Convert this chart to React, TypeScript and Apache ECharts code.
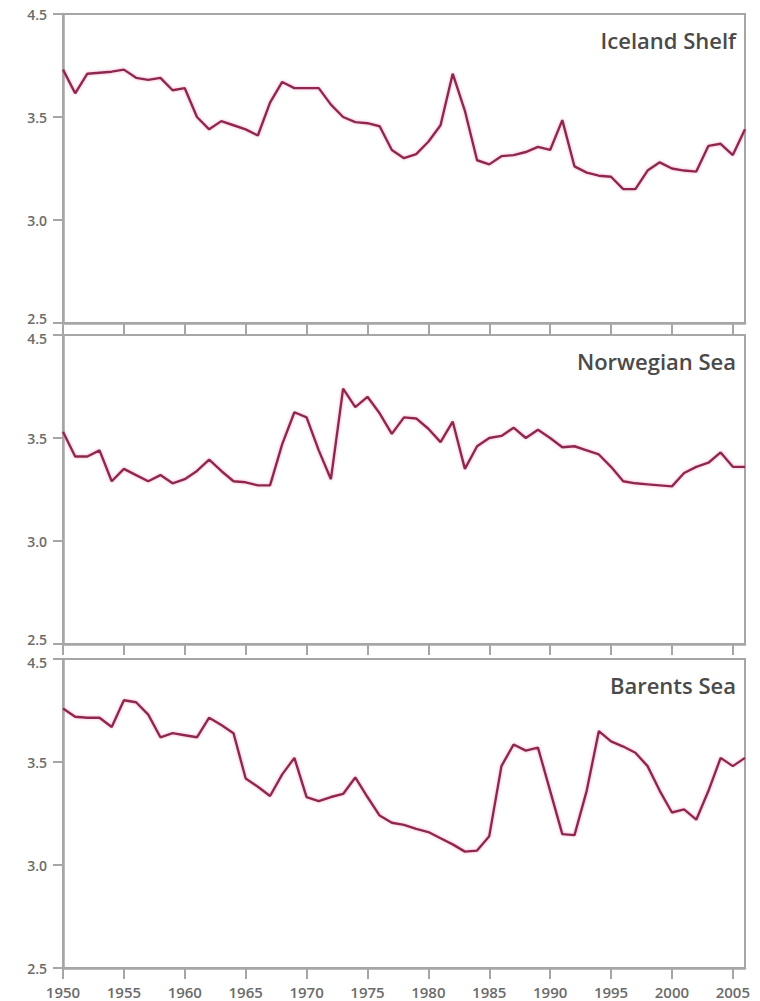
import React, { useEffect, useRef } from "react";
import * as echarts from "echarts";

const years = [
  1950, 1951, 1952, 1953, 1954, 1955, 1956, 1957, 1958, 1959,
  1960, 1961, 1962, 1963, 1964, 1965, 1966, 1967, 1968, 1969,
  1970, 1971, 1972, 1973, 1974, 1975, 1976, 1977, 1978, 1979,
  1980, 1981, 1982, 1983, 1984, 1985, 1986, 1987, 1988, 1989,
  1990, 1991, 1992, 1993, 1994, 1995, 1996, 1997, 1998, 1999,
  2000, 2001, 2002, 2003, 2004, 2005, 2006,
];

const icelandShelf = [
  3.73, 3.615, 3.71, 3.715, 3.72, 3.73, 3.69, 3.68, 3.69, 3.63,
  3.64, 3.5, 3.44, 3.48, 3.46, 3.44, 3.41, 3.57, 3.67, 3.64,
  3.64, 3.64, 3.56, 3.5, 3.475, 3.47, 3.455, 3.34, 3.3, 3.32,
  3.38, 3.46, 3.71, 3.53, 3.29, 3.27, 3.31, 3.315, 3.33, 3.355,
  3.34, 3.485, 3.26, 3.23, 3.215, 3.21, 3.15, 3.15, 3.24, 3.28,
  3.25, 3.24, 3.235, 3.36, 3.37, 3.315, 3.44,
];

const norwegianSea = [
  3.53, 3.41, 3.41, 3.44, 3.29, 3.35, 3.32, 3.29, 3.32, 3.28,
  3.3, 3.34, 3.395, 3.34, 3.29, 3.285, 3.27, 3.27, 3.47, 3.625,
  3.6, 3.44, 3.3, 3.74, 3.65, 3.7, 3.62, 3.52, 3.6, 3.595,
  3.545, 3.48, 3.58, 3.35, 3.46, 3.5, 3.51, 3.55, 3.5, 3.54,
  3.5, 3.455, 3.46, 3.44, 3.42, 3.36, 3.29, 3.28, 3.275, 3.27,
  3.265, 3.33, 3.36, 3.38, 3.43, 3.36, 3.36,
];

const barentsSea = [
  3.76, 3.72, 3.715, 3.715, 3.67, 3.8, 3.79, 3.73, 3.62, 3.64,
  3.63, 3.62, 3.715, 3.68, 3.64, 3.42, 3.38, 3.335, 3.44, 3.52,
  3.33, 3.31, 3.33, 3.345, 3.425, 3.33, 3.24, 3.205, 3.195, 3.175,
  3.16, 3.13, 3.1, 3.065, 3.07, 3.14, 3.48, 3.585, 3.555, 3.57,
  3.36, 3.15, 3.145, 3.36, 3.65, 3.6, 3.575, 3.545, 3.48, 3.36,
  3.255, 3.27, 3.22, 3.36, 3.52, 3.48, 3.52,
];

const panelTitles = ["Iceland Shelf", "Norwegian Sea", "Barents Sea"];
const xTickYears = [1950, 1955, 1960, 1965, 1970, 1975, 1980, 1985, 1990, 1995, 2000, 2005];
const yTickValues = [2.5, 3.0, 3.5, 4.0];
const yTickLabels = ["2.5", "3.0", "3.5", "4.5"];

export default function App() {
  const ref = useRef<HTMLDivElement>(null);

  useEffect(() => {
    if (!ref.current) return;
    const chart = echarts.init(ref.current, undefined, { renderer: "svg" });
    const seriesData = [icelandShelf, norwegianSea, barentsSea];
    const tops = [14, 335, 659];
    const height = 309;
    const axisColor = "#a6a6a6";
    const labelColor = "#6b6b6b";
    const font = "Open Sans, sans-serif";

    const grids = tops.map((t) => ({
      left: 63,
      width: 682,
      top: t,
      height,
      show: true,
      borderColor: axisColor,
      borderWidth: 2,
      backgroundColor: "transparent",
    }));

    const xAxes = tops.map((_, i) => ({
      type: "value",
      gridIndex: i,
      min: 1950,
      max: 2006,
      interval: 5,
      axisLine: { show: true, lineStyle: { color: axisColor, width: 2.5 } },
      axisTick: {
        show: true,
        length: 11,
        inside: false,
        customValues: xTickYears,
        lineStyle: { color: axisColor, width: 2 },
      },
      axisLabel: {
        show: i === 2,
        customValues: xTickYears,
        margin: 16,
        color: labelColor,
        fontSize: 15,
        fontWeight: 600,
        fontFamily: font,
        formatter: (v: number) => String(v),
      },
      splitLine: { show: false },
    }));

    const yAxes = tops.map((_, i) => ({
      type: "value",
      gridIndex: i,
      min: 2.5,
      max: 4.0,
      interval: 0.5,
      axisLine: { show: true, lineStyle: { color: axisColor, width: 2.5 } },
      axisTick: {
        show: true,
        length: 10,
        customValues: yTickValues,
        lineStyle: { color: axisColor, width: 2 },
      },
      axisLabel: {
        show: true,
        customValues: yTickValues,
        margin: 16,
        color: labelColor,
        fontSize: 14,
        fontWeight: 600,
        fontFamily: font,
        formatter: (v: number) => {
          const idx = yTickValues.findIndex((t) => Math.abs(t - v) < 1e-6);
          if (idx < 0) return "";
          if (idx === 0 && i < 2) return "{lo|" + yTickLabels[idx] + "}";
          if (idx === yTickValues.length - 1 && i > 0) return "{hi|" + yTickLabels[idx] + "}";
          return yTickLabels[idx];
        },
        rich: {
          lo: {
            fontSize: 14,
            fontWeight: 600,
            fontFamily: font,
            color: labelColor,
            padding: [0, 0, 9, 0],
          },
          hi: {
            fontSize: 14,
            fontWeight: 600,
            fontFamily: font,
            color: labelColor,
            padding: [7, 0, 0, 0],
          },
        },
      },
      splitLine: { show: false },
    }));

    const series = seriesData.map((vals, i) => ({
      type: "line",
      xAxisIndex: i,
      yAxisIndex: i,
      data: years.map((y, k) => [y, vals[k]]),
      showSymbol: false,
      symbol: "none",
      lineStyle: {
        color: "#8e2850",
        width: 2.4,
        shadowColor: "rgba(232,120,165,0.65)",
        shadowBlur: 3,
      },
      z: 3,
    }));

    const titles = tops.map((t, i) => ({
      type: "text",
      right: 24,
      top: t + 15,
      style: {
        text: panelTitles[i],
        fill: "#4a4a4a",
        fontSize: 22,
        fontWeight: 600,
        fontFamily: font,
      },
    }));

    chart.setOption({
      animation: false,
      backgroundColor: "#ffffff",
      grid: grids,
      xAxis: xAxes,
      yAxis: yAxes,
      series,
      graphic: titles,
    });

    return () => chart.dispose();
  }, []);

  return (
    <div
      ref={ref}
      style={{ position: "absolute", left: 0, top: 0, width: 760, height: 1001 }}
    />
  );
}
